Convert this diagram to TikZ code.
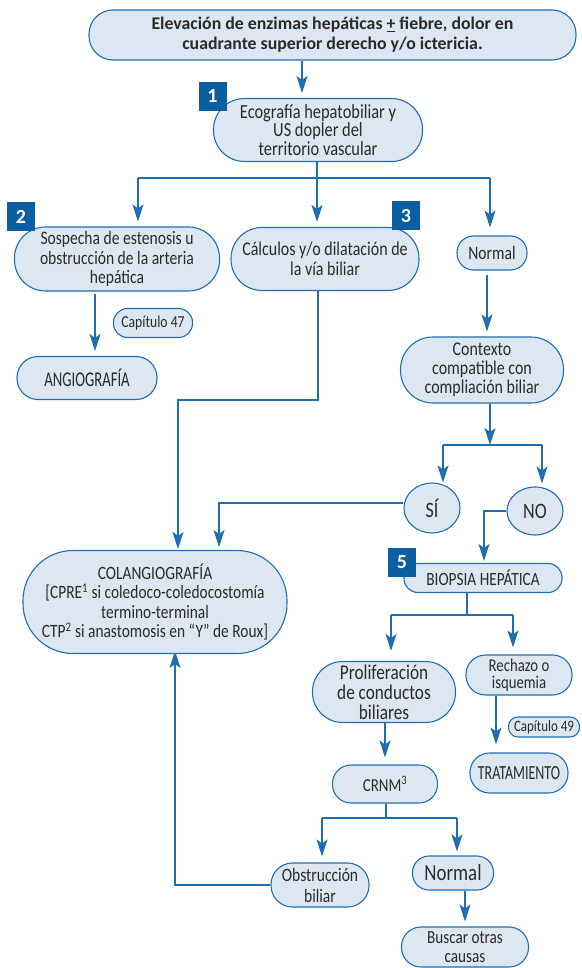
\documentclass[tikz,border=0pt]{standalone}
\usepackage{fontspec}
\setmainfont{Carlito}
\newfontfamily\nar[FakeStretch=0.82]{Carlito}
\newfontfamily\narc[FakeStretch=0.70]{Carlito}
\usetikzlibrary{arrows.meta,shapes.geometric,calc,backgrounds}
\definecolor{fillb}{HTML}{DDE7F2}
\definecolor{lineb}{HTML}{1F6FB0}
\definecolor{badgec}{HTML}{0B5FA0}
\definecolor{txt}{HTML}{2B2B2B}
\newcommand{\fs}[2]{\nar\fontsize{#1}{#2}\selectfont}
\newcommand{\fc}[2]{\narc\fontsize{#1}{#2}\selectfont}
\tikzset{
  bx/.style={rectangle, draw=lineb, line width=1.1pt, fill=fillb, text=txt, align=center, inner sep=0pt},
  el/.style={ellipse, draw=lineb, line width=1.1pt, fill=fillb, text=txt, align=center, inner sep=0pt},
  badge/.style={rectangle, fill=badgec, text=white, font=\bfseries\fontsize{20}{20}\selectfont, minimum width=28pt, minimum height=29pt, inner sep=0pt},
  ln/.style={draw=lineb, line width=1.1pt},
  arr/.style={ln, -{Stealth[length=17pt,width=11pt,inset=4pt]}},
}
\begin{document}
\begin{tikzpicture}[x=1pt,y=-1pt]
\useasboundingbox (0,0) rectangle (581,968);
% nodes
\node[bx, minimum width=487pt, minimum height=50pt, rounded corners=24pt, font=\bfseries\fontsize{17.8}{20}\selectfont] (top) at (332.5,35)
  {Elevación de enzimas hepáticas \underline{+} fiebre, dolor en\\cuadrante superior derecho y/o ictericia.};
\node[bx, minimum width=209pt, minimum height=63pt, rounded corners=31pt, font=\fs{20}{18.5}] (eco) at (318,130)
  {Ecografía hepatobiliar y\\US dopler del\\territorio vascular};
\node[bx, minimum width=205pt, minimum height=64pt, rounded corners=31pt, font=\fs{19}{19.5}] (sosp) at (117,259)
  {Sospecha de estenosis u\\obstrucción de la arteria\\hepática};
\node[bx, minimum width=188pt, minimum height=63pt, rounded corners=31pt, font=\fs{19.5}{19.5}] (calc) at (325,259)
  {Cálculos y/o dilatación de\\la vía biliar};
\node[bx, minimum width=70pt, minimum height=34pt, rounded corners=16.5pt, font=\fs{19}{17}] (norm) at (492,253) {Normal};
\node[bx, minimum width=163pt, minimum height=66pt, rounded corners=32.5pt, font=\fs{19.5}{19}] (ctx) at (482,370)
  {Contexto\\compatible con\\compliación biliar};
\node[bx, minimum width=79pt, minimum height=29pt, rounded corners=14pt, font=\fs{16.7}{14}] (cap47) at (153,323) {Capítulo 47};
\node[bx, minimum width=140pt, minimum height=43pt, rounded corners=21pt, font=\fc{21}{19}] (angio) at (87,378) {ANGIOGRAFÍA};
\node[bx, minimum width=264pt, minimum height=103pt, rounded corners=50pt, font=\fs{18.8}{19.5}] (colang) at (155,602)
  {COLANGIOGRAFÍA\\{}[CPRE\textsuperscript{1} si coledoco-coledocostomía\\termino-terminal\\CTP\textsuperscript{2} si anastomosis en “Y” de Roux]};
\node[el, minimum width=56pt, minimum height=50pt, font=\fs{22}{18}] (si) at (432,508) {SÍ};
\node[el, minimum width=56pt, minimum height=48pt, font=\fs{22}{18}] (no) at (535,511) {NO};
\node[bx, minimum width=158pt, minimum height=29pt, rounded corners=14pt, font=\fs{18.7}{16}] (bio) at (483,578) {BIOPSIA HEPÁTICA};
\node[bx, minimum width=143pt, minimum height=61pt, rounded corners=30pt, font=\fs{21}{20}] (prol) at (384,692)
  {Proliferación\\de conductos\\biliares};
\node[bx, minimum width=106pt, minimum height=40pt, rounded corners=19.5pt, font=\fs{18}{17.5}] (rech) at (519,675)
  {Rechazo o\\isquemia};
\node[bx, minimum width=71pt, minimum height=20pt, rounded corners=9.5pt, font=\fs{15.8}{14}] (cap49) at (544,727) {Capítulo 49};
\node[bx, minimum width=98pt, minimum height=40pt, rounded corners=19.5pt, font=\fc{20}{16}] (trat) at (519,773) {TRATAMIENTO};
\node[bx, minimum width=105pt, minimum height=38pt, rounded corners=18.5pt, font=\fs{18.3}{16}] (crnm) at (385,784) {CRNM\textsuperscript{3}};
\node[bx, minimum width=98pt, minimum height=44pt, rounded corners=21.5pt, font=\fs{19}{21}] (obst) at (320,885)
  {Obstrucción\\biliar};
\node[bx, minimum width=81pt, minimum height=34pt, rounded corners=16.5pt, font=\fs{23}{18}] (norm2) at (453,873) {Normal};
\node[bx, minimum width=127pt, minimum height=40pt, rounded corners=19.5pt, font=\fs{18.5}{19}] (busc) at (465,947)
  {Buscar otras\\causas};
% badges
\node[badge] (b1) at (212.5,96.5) {1};
\node[badge] (b2) at (21,217) {2};
\node[badge] (b3) at (406,216) {3};
\node[badge] (b5) at (402,562.5) {5};
% coordinates
\coordinate (e1) at (302,95);
\coordinate (sp1) at (317,178);
\coordinate (sp1l) at (138,178);
\coordinate (sp1r) at (490,178);
\coordinate (a1) at (95,293);
\coordinate (nx) at (487,270);
\coordinate (k1) at (318,400);
\coordinate (k2) at (178,400);
\coordinate (sp2) at (490,445);
\coordinate (sp2l) at (443,445);
\coordinate (sp2r) at (542,445);
\coordinate (q1) at (219,503);
\coordinate (n1) at (484,511);
\coordinate (sp3) at (467,615);
\coordinate (sp3l) at (391,615);
\coordinate (sp3r) at (513,615);
\coordinate (pc) at (385,723);
\coordinate (r1) at (496,695);
\coordinate (sp4) at (386,818);
\coordinate (sp4l) at (322,818);
\coordinate (sp4r) at (457,818);
\coordinate (o1) at (175,885);
% connectors
\begin{scope}[on background layer]
\draw[arr, shorten >=2pt] (top.south -| e1) -- (e1);
\draw[ln] (eco.south -| sp1) -- (sp1);
\draw[ln] (sp1l) -- (sp1r);
\draw[arr, shorten >=5pt] (sp1l) -- (sp1l |- sosp.north);
\draw[arr, shorten >=5pt] (sp1) -- (sp1 |- calc.north);
\draw[arr, shorten >=8pt] (sp1r) -- (sp1r |- norm.north);
\draw[arr, shorten <=4pt, shorten >=5pt] (nx |- norm.south) -- (nx |- ctx.north);
\draw[arr, shorten <=2pt, shorten >=5pt] (a1 |- sosp.south) -- (a1 |- angio.north);
\draw[arr, shorten >=1pt] (calc.south -| k1) -- (k1) -- (k2) -- (k2 |- colang.north);
\draw[arr] (sp2 |- ctx.south) -- (sp2);
\draw[ln] (sp2l) -- (sp2r);
\draw[arr] (sp2l) -- (sp2l |- si.north);
\draw[arr, shorten >=3pt] (sp2r) -- (sp2r |- no.north);
\draw[arr, shorten >=3pt] (si.west |- q1) -- (q1) -- (q1 |- colang.north);
\draw[arr, shorten >=2pt] (no.west) -- (n1) -- (n1 |- bio.north);
\draw[ln] (sp3 |- bio.south) -- (sp3);
\draw[ln] (sp3l) -- (sp3r);
\draw[arr, shorten >=10pt] (sp3l) -- (sp3l |- prol.north);
\draw[arr, shorten >=7pt] (sp3r) -- (sp3r |- rech.north);
\draw[arr, shorten >=7pt] (pc |- prol.south) -- (pc |- crnm.north);
\draw[arr, shorten >=8pt] (r1 |- rech.south) -- (r1 |- trat.north);
\draw[ln] (sp4 |- crnm.south) -- (sp4);
\draw[ln] (sp4l) -- (sp4r);
\draw[arr, shorten >=6pt] (sp4l) -- (sp4l |- obst.north);
\draw[arr, shorten >=4pt] (sp4r) -- (sp4r |- norm2.north);
\draw[arr, shorten >=5pt] (norm2.south -| busc.north) -- (busc.north);
\draw[arr, shorten >=-3pt] (obst.west) -- (o1) -- (o1 |- colang.south);
\end{scope}
\end{tikzpicture}
\end{document}
